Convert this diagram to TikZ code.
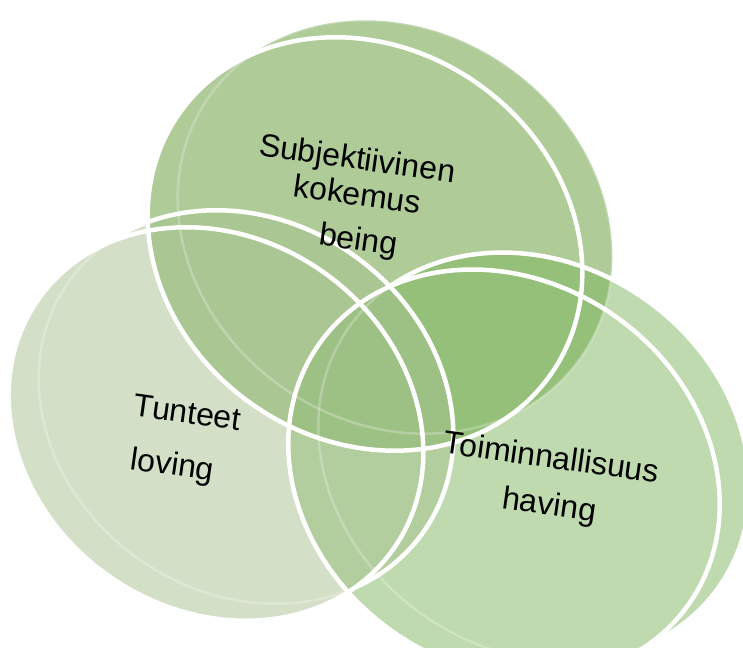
\documentclass[tikz,border=0pt]{standalone}
\usepackage{fontspec}
\setmainfont{Liberation Sans}
\definecolor{cT}{RGB}{93,151,49}
\definecolor{cR}{RGB}{125,181,93}
\definecolor{cL}{RGB}{167,193,143}
\begin{document}
\begin{tikzpicture}[x=1pt,y=1pt,
  lbl/.style={anchor=base, rotate=-8, inner sep=0pt, font=\fontsize{32}{38}\selectfont, text=black},
  ring/.style={draw=white, line width=4.5pt},
  faintring/.style={draw=white, draw opacity=0.25, line width=2.5pt},
  elT/.style={x radius=227pt, y radius=196pt, rotate=-35},
  elL/.style={x radius=217pt, y radius=186pt, rotate=-35},
  elR/.style={x radius=226pt, y radius=193pt, rotate=-35}]
\useasboundingbox (0,0) rectangle (743,647);
\clip (0,0) rectangle (743,647);
% fills (front face swept to back face)
\begin{scope}[transparency group, opacity=0.5]
  \foreach \t in {0,...,8} { \fill[cT] (365+3.75*\t, 403+2.125*\t) ellipse [elT]; }
\end{scope}
\begin{scope}[transparency group, opacity=0.5]
  \foreach \t in {0,...,8} { \fill[cR] (504+3.75*\t, 173+2.125*\t) ellipse [elR]; }
\end{scope}
\begin{scope}[transparency group, opacity=0.5]
  \foreach \t in {0,...,8} { \fill[cL] (216+3.75*\t, 223+2.125*\t) ellipse [elL]; }
\end{scope}
% faint back rims
\draw[faintring] (395,420) ellipse [elT];
\draw[faintring] (534,190) ellipse [elR];
\draw[faintring] (246,240) ellipse [elL];
% white back rims outside the front faces
\begin{scope}
  \clip (216,223) ellipse [elL] (-500,-500) -- (-500,1200) -- (1300,1200) -- (1300,-500) -- cycle;
  \draw[ring] (246,240) ellipse [elL];
\end{scope}
\begin{scope}
  \clip (504,173) ellipse [elR] (-500,-500) -- (-500,1200) -- (1300,1200) -- (1300,-500) -- cycle;
  \draw[ring] (534,190) ellipse [elR];
\end{scope}
% front rims
\draw[ring] (365,403) ellipse [elT];
\draw[ring] (504,173) ellipse [elR];
\draw[ring] (216,223) ellipse [elL];
% labels
\node[lbl] (t1) at (356,478) {Subjektiivinen};
\node[lbl] (t2) at (356,442) {kokemus};
\node[lbl] (t3) at (357,397) {being};
\node[lbl] (l1) at (186,224) {Tunteet};
\node[lbl] (l2) at (171,172) {loving};
\node[lbl] (r1) at (550,179) {Toiminnallisuus};
\node[lbl] (r2) at (548,132) {having};
\end{tikzpicture}
\end{document}
